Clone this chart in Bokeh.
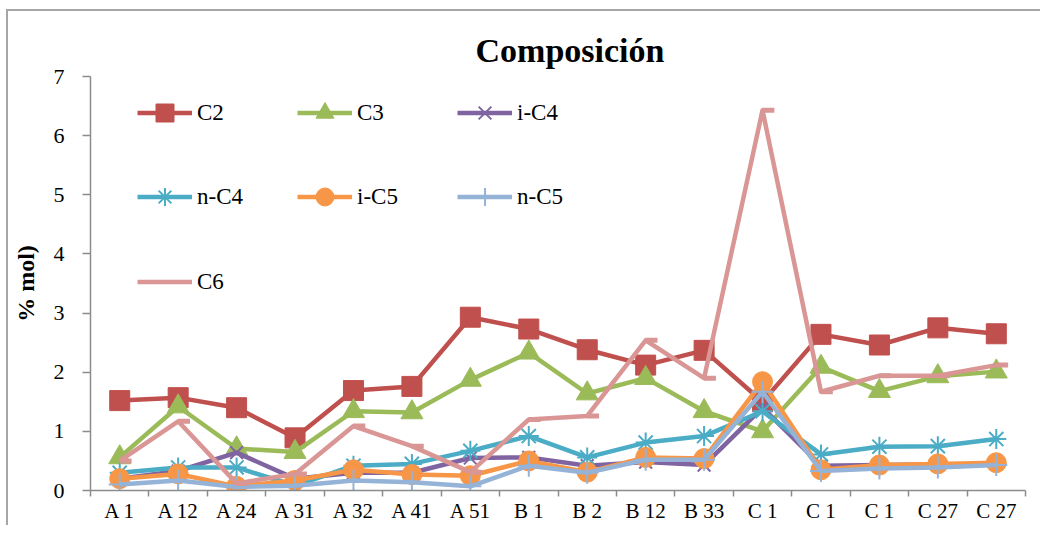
from bokeh.plotting import figure
from bokeh.models import Range1d, FixedTicker, Legend, LegendItem, ColumnDataSource
from bokeh.transform import dodge
from bokeh.embed import file_html
from bokeh.resources import INLINE

samples = ["A 1", "A 12", "A 24", "A 31", "A 32", "A 41", "A 51", "B 1",
           "B 2", "B 12", "B 33", "C 1", "C 1", "C 1", "C 27", "C 27"]
c2 = [1.52, 1.57, 1.40, 0.89, 1.69, 1.76, 2.93, 2.73, 2.38, 2.12, 2.37, 1.50, 2.64, 2.46, 2.75, 2.65]
c3 = [0.56, 1.42, 0.71, 0.65, 1.34, 1.32, 1.87, 2.33, 1.64, 1.90, 1.34, 1.00, 2.09, 1.68, 1.93, 2.01]
ic4 = [0.20, 0.33, 0.64, 0.20, 0.30, 0.30, 0.55, 0.56, 0.42, 0.48, 0.43, 1.40, 0.42, 0.43, 0.44, 0.45]
nc4 = [0.30, 0.39, 0.39, 0.08, 0.42, 0.45, 0.67, 0.92, 0.56, 0.81, 0.92, 1.34, 0.61, 0.74, 0.75, 0.87]
ic5 = [0.20, 0.28, 0.07, 0.17, 0.35, 0.27, 0.25, 0.50, 0.31, 0.56, 0.54, 1.84, 0.35, 0.43, 0.45, 0.47]
nc5 = [0.10, 0.17, 0.06, 0.08, 0.17, 0.14, 0.07, 0.42, 0.30, 0.52, 0.52, 1.67, 0.33, 0.37, 0.39, 0.43]
c6 = [0.50, 1.17, 0.12, 0.28, 1.09, 0.75, 0.31, 1.20, 1.26, 2.54, 1.90, 6.43, 1.67, 1.94, 1.94, 2.12]

names = ["C2", "C3", "i-C4", "n-C4", "i-C5", "n-C5", "C6"]
colors = ["#C0504D", "#9BBB59", "#8064A2", "#4BACC6", "#F79646", "#95B3D7", "#D99694"]
markers = ["square", "triangle", "x", "asterisk", "circle", "cross", "dash"]
sizes = [20, 22, 18, 20, 20, 22, 12]
values = [c2, c3, ic4, nc4, ic5, nc5, c6]

xs = list(range(len(samples)))

p = figure(width=1040, height=525, output_backend="svg", toolbar_location=None,
           x_range=Range1d(-0.5, len(samples) - 0.5), y_range=Range1d(0, 7),
           min_border_left=90, min_border_right=15, min_border_top=76,
           min_border_bottom=30)
p.styles = {"background": "linear-gradient(#a6a6a6,#a6a6a6) 6px 9px / 2px 100% no-repeat, "
                          "linear-gradient(#a6a6a6,#a6a6a6) 6px 9px / 100% 2px no-repeat, white"}
p.border_fill_color = None
p.outline_line_color = None
p.xgrid.visible = False
p.ygrid.visible = False
p.background_fill_color = "white"

p.title.text = "Composición"
p.title.align = "left"
p.title.offset = 385
p.title.text_font = "Liberation Serif"
p.title.text_font_size = "34px"
p.title.text_font_style = "bold"
p.title.text_color = "black"
p.title.standoff = 16
p.title.background_fill_color = None

axis_color = "#8c8c8c"
# x axis
xa = p.xaxis[0]
xa.background_fill_color = None
xa.ticker = FixedTicker(ticks=xs, minor_ticks=[i - 0.5 for i in range(len(samples) + 1)])
xa.major_label_overrides = {i: s for i, s in enumerate(samples)}
xa.major_tick_out = 0
xa.major_tick_in = 0
xa.minor_tick_out = 6
xa.minor_tick_in = 0
xa.minor_tick_line_color = axis_color
xa.minor_tick_line_width = 1.5
xa.axis_line_color = axis_color
xa.axis_line_width = 1.5
xa.major_label_text_font = "Liberation Serif"
xa.major_label_text_font_size = "21px"
xa.major_label_text_color = "black"
xa.major_label_standoff = 2

# y axis
ya = p.yaxis[0]
ya.background_fill_color = None
ya.ticker = FixedTicker(ticks=[0, 1, 2, 3, 4, 5, 6, 7])
ya.minor_tick_line_color = None
ya.major_tick_out = 8
ya.major_tick_in = 0
ya.major_tick_line_color = axis_color
ya.major_tick_line_width = 1.5
ya.axis_line_color = axis_color
ya.axis_line_width = 1.5
ya.major_label_text_font = "Liberation Serif"
ya.major_label_text_font_size = "22px"
ya.major_label_text_color = "black"
ya.major_label_standoff = 18
ya.axis_label = "% mol)"
ya.axis_label_text_font = "Liberation Serif"
ya.axis_label_text_font_size = "24px"
ya.axis_label_text_font_style = "bold"
ya.axis_label_text_color = "black"
ya.axis_label_standoff = 12

items = []
for name, vals, col, mk, sz in zip(names, values, colors, markers, sizes):
    src = ColumnDataSource(dict(x=xs, y=vals))
    lr = p.line("x", "y", source=src, line_color=col, line_width=4.5, line_join="round")
    if mk == "dash":
        sr = p.scatter(x=dodge("x", 0.1, range=p.x_range), y="y", source=src, marker="dash",
                       size=sz, line_color=col, line_width=5)
        items.append(LegendItem(label=name, renderers=[lr]))
    elif mk in ("x", "asterisk", "cross"):
        sr = p.scatter("x", "y", source=src, marker=mk, size=sz, line_color=col,
                       line_width=2)
        items.append(LegendItem(label=name, renderers=[lr, sr]))
    else:
        sr = p.scatter("x", "y", source=src, marker=mk, size=sz, line_color=col,
                       fill_color=col)
        items.append(LegendItem(label=name, renderers=[lr, sr]))

col_x = [47, 207, 367]
row_y = [355, 271, 186]
for i, it in enumerate(items):
    r, c = divmod(i, 3)
    leg = Legend(items=[it], location=(col_x[c], row_y[r]), orientation="horizontal",
                 glyph_width=55, glyph_height=45, label_standoff=5,
                 label_text_font="Liberation Serif", label_text_font_size="23px",
                 label_text_color="black", border_line_color=None,
                 background_fill_alpha=0, padding=0, margin=0, spacing=0)
    p.add_layout(leg)

open("out.html", "w").write(file_html(p, INLINE))
